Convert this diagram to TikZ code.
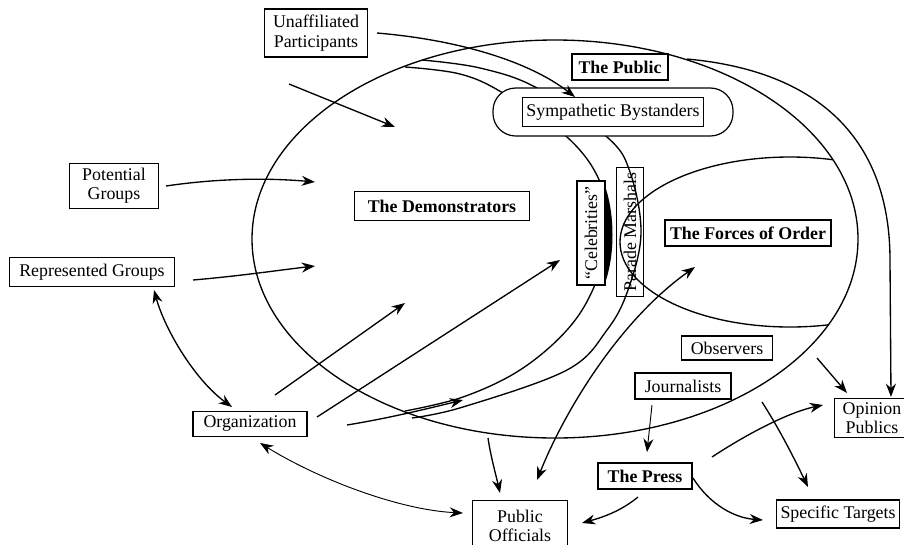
\documentclass[tikz,border=0pt]{standalone}
\usepackage{fontspec}
\setmainfont{Liberation Serif}
\usetikzlibrary{arrows.meta}
\begin{document}
\begin{tikzpicture}[x=0.75pt,y=-0.75pt,
  box/.style={draw, line width=0.9pt, fill=white, inner sep=1pt, align=center, font=\fontsize{13.4}{14.5}\selectfont},
  bbox/.style={box, font=\bfseries\fontsize{13.4}{14.5}\selectfont},
  arr/.style={line width=1pt, -{Stealth[length=10pt,width=7.5pt]}},
  darr/.style={line width=1pt, {Stealth[length=10pt,width=7.5pt]}-{Stealth[length=10pt,width=7.5pt]}},
  thinarr/.style={line width=0.7pt, -{Stealth[length=10pt,width=7.5pt]}},
  thindarr/.style={line width=0.7pt, {Stealth[length=10pt,width=7.5pt]}-{Stealth[length=10pt,width=7.5pt]}},
  region/.style={line width=1pt}]
\useasboundingbox (0,0) rectangle (904,544);

% regions
\draw[region] (555,239) ellipse [x radius=303, y radius=199];
\begin{scope}
  \clip (555,239) ellipse [x radius=303, y radius=199];
  \draw[region] (790,242) ellipse [x radius=170, y radius=85];
\end{scope}
\draw[region] plot[smooth, tension=0.6] coordinates {(405,67) (460,74) (503,93) (567,137) (600,182) (608,235) (594,287) (567,330) (520,370) (463,397) (405,411)};
\draw[region] plot[smooth, tension=0.6] coordinates {(422,60) (480,68) (537,88) (607,137) (630,172) (641,233) (628,290) (607,330) (567,370) (463,407) (412,418)};

% nodes
\node[box, minimum width=77pt, minimum height=36pt] (up) at (316,33) {Unaffiliated\\Participants};
\node[bbox, minimum width=72pt, minimum height=19.5pt] (pub) at (620,67) {The Public};
\node[draw, line width=0.9pt, fill=white, rounded corners=17pt, minimum width=180pt, minimum height=36pt] (sympo) at (613,112) {};
\node[box, minimum width=135.75pt, minimum height=21.75pt] (symp) at (613,112) {Sympathetic Bystanders};
\node[box, minimum width=66.75pt, minimum height=33.75pt] (pg) at (114,186) {Potential\\Groups};
\node[box, minimum width=123.75pt, minimum height=21.75pt] (rg) at (92,272) {Represented Groups};
\node[bbox, minimum width=131.25pt, minimum height=21.75pt] (dem) at (442,206) {The Demonstrators};
\node[box, minimum width=85.5pt, minimum height=18.75pt] (org) at (250,424) {Organization};
\node[box, rotate=90, minimum width=78pt, minimum height=21pt] (cel) at (591,233) {``Celebrities''};
\node[box, fill=none, rotate=90, minimum width=96.75pt, minimum height=20.25pt] (pm) at (630,232) {Parade Marshals};
\node[bbox, minimum width=124.5pt, minimum height=19.5pt] (fo) at (748,233) {The Forces of Order};
\node[box, minimum width=68.25pt, minimum height=18pt] (obs) at (727,348) {Observers};
\node[box, minimum width=72pt, minimum height=19.5pt] (jou) at (683,386) {Journalists};
\node[bbox, minimum width=70.5pt, minimum height=19.5pt] (press) at (645,476) {The Press};
\node[box, minimum width=92.25pt, minimum height=21pt] (st) at (838,514) {Specific Targets};
\node[box, minimum width=56.25pt, minimum height=29.25pt] (op) at (872,418) {Opinion\\Publics};
\node[box, minimum width=71.25pt, minimum height=38pt] (po) at (520,526) {Public\\Officials};

% crescent
\fill (605,186) .. controls (615,215) and (615,255) .. (605,283) -- cycle;

% connector end points
\coordinate (upA) at (377,33);   \coordinate (sympT) at (575,97);
\coordinate (fS) at (289,84);    \coordinate (fE) at (395,127);
\coordinate (pgA) at (166,186);  \coordinate (pgE) at (315,182);
\coordinate (rgA) at (193,280);  \coordinate (rgE) at (315,266);
\coordinate (rgB) at (154,290);  \coordinate (orgT) at (232,407);
\coordinate (orgA) at (275,395); \coordinate (demE) at (405,303);
\coordinate (orgB) at (317,417); \coordinate (celE) at (560,260);
\coordinate (orgC) at (347,425); \coordinate (bandE) at (463,400);
\coordinate (orgD) at (260,443); \coordinate (poL) at (463,513);
\coordinate (demB) at (488,438); \coordinate (poT) at (500,493);
\coordinate (poR) at (537,480);  \coordinate (foE) at (695,267);
\coordinate (jouB) at (652,405); \coordinate (pressT) at (647,452);
\coordinate (obsB) at (817,358); \coordinate (opT) at (847,393);
\coordinate (pubS) at (687,59);  \coordinate (opT2) at (891,397);
\coordinate (pressR) at (712,457); \coordinate (opL) at (823,405);
\coordinate (demC) at (762,402); \coordinate (stT) at (808,487);
\coordinate (pressE) at (693,478); \coordinate (stL) at (763,520);
\coordinate (pressB) at (638,497); \coordinate (poE) at (582,523);

% connectors
\draw[arr] (upA) .. controls (460,40) and (530,62) .. (sympT);
\draw[arr] (fS) -- (fE);
\draw[arr] (pgA) .. controls (220,178) and (270,178) .. (pgE);
\draw[arr] (rgA) .. controls (240,276) and (280,270) .. (rgE);
\draw[darr] (rgB) .. controls (165,330) and (195,380) .. (orgT);
\draw[arr] (orgA) -- (demE);
\draw[arr] (orgB) -- (celE);
\draw[arr] (orgC) .. controls (390,418) and (430,408) .. (bandE);
\draw[thindarr] (orgD) .. controls (320,480) and (400,510) .. (poL);
\draw[arr] (demB) .. controls (491,458) and (496,475) .. (poT);
\draw[darr] (poR) .. controls (565,410) and (620,320) .. (foE);
\draw[thinarr] (jouB) -- (pressT);
\draw[arr] (obsB) -- (opT);
\draw[arr] (pubS) .. controls (830,72) and (890,150) .. (890,260) -- (opT2);
\draw[arr] (pressR) .. controls (750,432) and (790,412) .. (opL);
\draw[arr] (demC) .. controls (780,430) and (795,460) .. (stT);
\draw[arr] (pressE) .. controls (710,505) and (735,518) .. (stL);
\draw[arr] (pressB) .. controls (620,512) and (600,518) .. (poE);
\end{tikzpicture}
\end{document}
